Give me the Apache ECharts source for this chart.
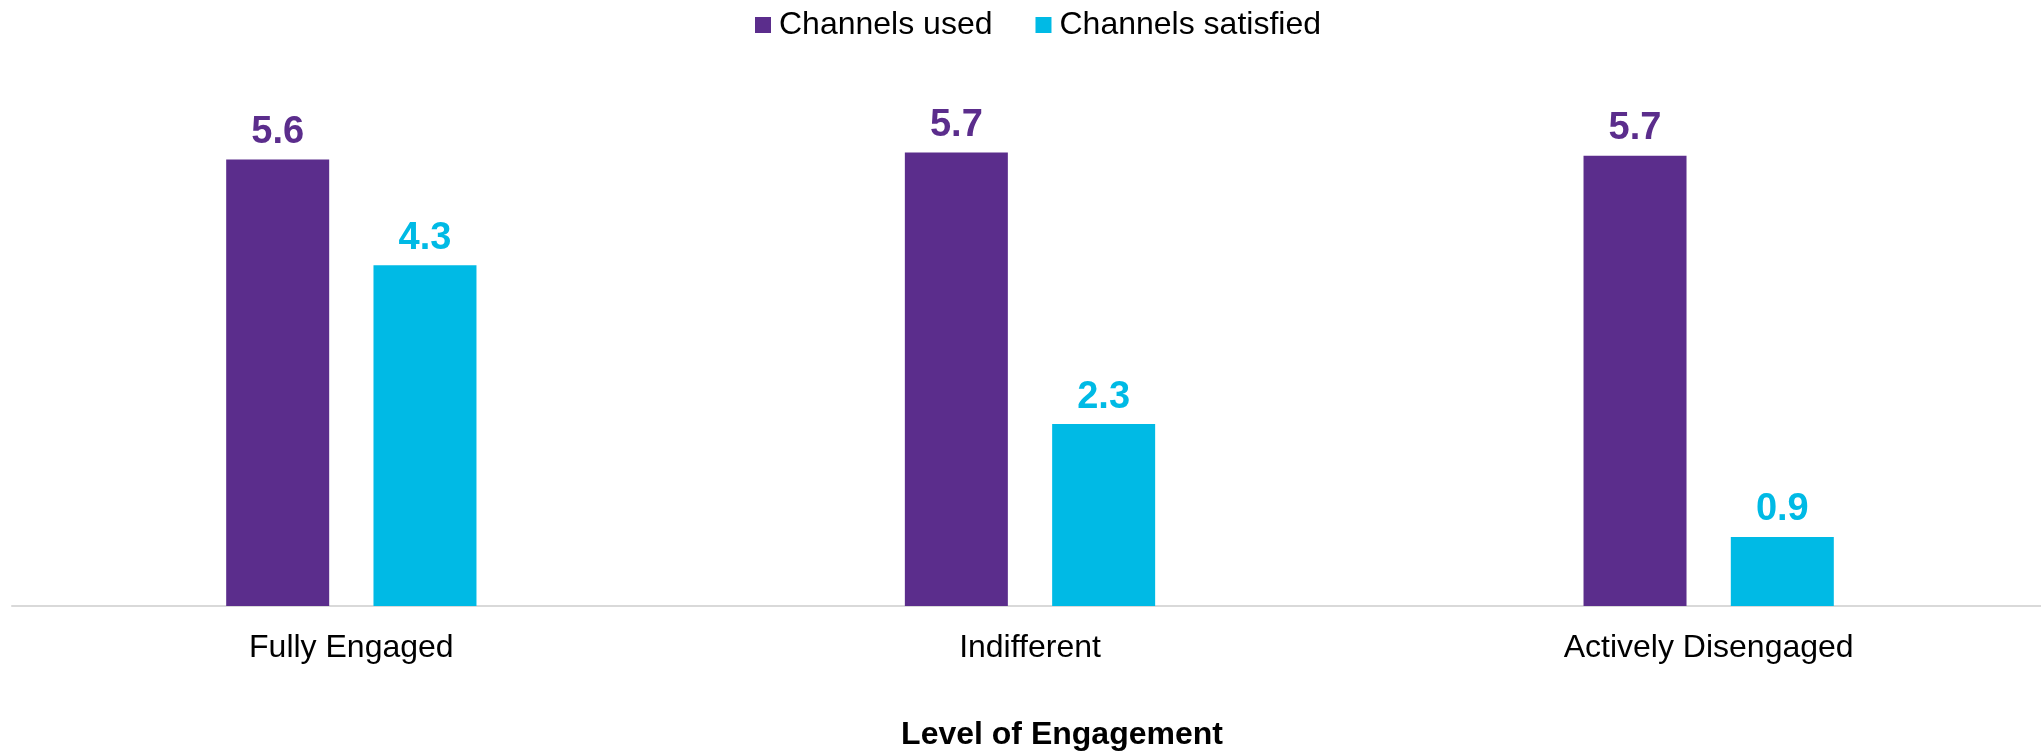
<!DOCTYPE html>
<html>
<head>
<meta charset="utf-8">
<script src="https://cdn.jsdelivr.net/npm/echarts@6/dist/echarts.min.js"></script>
<style>
html,body{margin:0;padding:0;background:#fff;}
#chart{width:2041px;height:753px;}
</style>
</head>
<body>
<div id="chart"></div>
<script>
const categories = ['Fully Engaged', 'Indifferent', 'Actively Disengaged'];
const seriesNames = ['Channels used', 'Channels satisfied'];
const channelsUsed = [5.62, 5.71, 5.67];
const channelsSatisfied = [4.29, 2.29, 0.87];
const axisTitle = 'Level of Engagement';

const colors = ['#5B2D8C', '#00BAE5'];
const fontFamily = '"Liberation Sans", Arial, Helvetica, sans-serif';

const chart = echarts.init(document.getElementById('chart'), null, {renderer: 'canvas'});

function barSeries(name, data, color) {
  return {
    name: name,
    type: 'bar',
    data: data,
    barWidth: 103,
    barGap: '43%',
    itemStyle: {color: color},
    label: {
      show: true,
      position: 'top',
      distance: 8,
      color: color,
      fontFamily: fontFamily,
      fontWeight: 'bold',
      fontSize: 38,
      formatter: p => p.value.toFixed(1)
    }
  };
}

chart.setOption({
  animation: false,
  backgroundColor: '#ffffff',
  textStyle: {fontFamily: fontFamily},
  color: colors,
  legend: {
    data: seriesNames,
    left: 755,
    top: 9,
    padding: 0,
    icon: 'rect',
    itemWidth: 16,
    itemHeight: 16,
    itemGap: 43,
    textStyle: {fontSize: 32, color: '#000', fontFamily: fontFamily, padding: [0, 0, 0, 3]}
  },
  grid: {left: 12, width: 2036, top: 50, height: 556, containLabel: false, outerBoundsMode: 'none'},
  xAxis: {
    type: 'category',
    data: categories,
    axisLine: {show: true, lineStyle: {color: '#D9D9D9', width: 2}},
    axisTick: {show: false},
    axisLabel: {fontSize: 32, color: '#000', margin: 26, fontFamily: fontFamily},
    name: axisTitle,
    nameLocation: 'middle',
    nameGap: 113,
    nameTextStyle: {fontSize: 32, fontWeight: 'bold', color: '#000', fontFamily: fontFamily, padding: [0, 0, 0, 64]}
  },
  yAxis: {
    type: 'value',
    min: 0,
    max: 7,
    interval: 1,
    show: false,
    splitLine: {show: false}
  },
  series: [
    barSeries(seriesNames[0], channelsUsed, colors[0]),
    barSeries(seriesNames[1], channelsSatisfied, colors[1])
  ]
});
</script>
</body>
</html>
